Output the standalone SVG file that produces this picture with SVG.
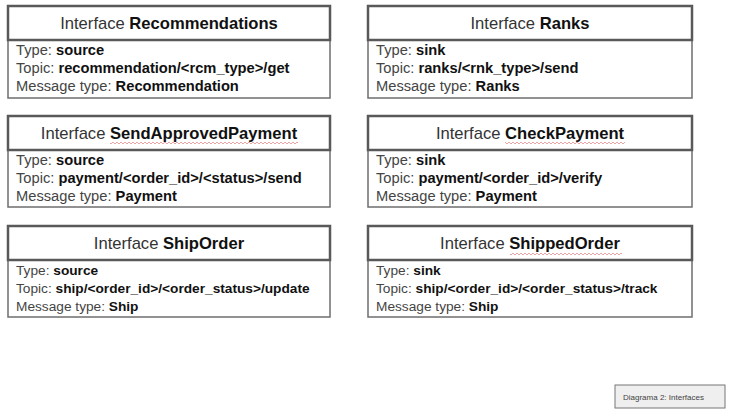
<svg xmlns="http://www.w3.org/2000/svg" width="734" height="419" viewBox="0 0 734 419">
<style>
.hdr{fill:#fff;stroke:#595959;stroke-width:2.5}
.body{fill:#fff;stroke:#6e6e6e;stroke-width:1.5}
.ht{font-family:"Liberation Sans",Arial,sans-serif;font-size:16.6px;fill:#333;text-anchor:middle}
.bt{font-family:"Liberation Sans",Arial,sans-serif;font-size:14.7px;fill:#444}
.bt3{font-family:"Liberation Sans",Arial,sans-serif;font-size:13.7px;fill:#444}
.b{font-weight:bold;fill:#111}
.cap{fill:#efefef;stroke:#777;stroke-width:1}
.ct{font-family:"Liberation Sans",Arial,sans-serif;font-size:8px;fill:#444}
</style>
<defs>
<pattern id="wv" width="4" height="3" patternUnits="userSpaceOnUse"><path d="M0 2 Q1 0 2 2 T4 2" fill="none" stroke="#e08080" stroke-width="0.7"/></pattern>
</defs>
<rect width="734" height="419" fill="#fff"/>

<g id="recommendations">
<rect class="body" x="8" y="40" width="322" height="58"/>
<rect class="hdr" x="8" y="6" width="322" height="34"/>
<text class="ht" x="169" y="29">Interface <tspan class="b">Recommendations</tspan></text>
<text class="bt" x="16" y="55">Type: <tspan class="b">source</tspan></text>
<text class="bt" x="16" y="73">Topic: <tspan class="b">recommendation/&lt;rcm_type&gt;/get</tspan></text>
<text class="bt" x="16" y="91">Message type: <tspan class="b">Recommendation</tspan></text>
</g>

<g id="ranks">
<rect class="body" x="368" y="40" width="324" height="58"/>
<rect class="hdr" x="368" y="6" width="324" height="34"/>
<text class="ht" x="530" y="29">Interface <tspan class="b">Ranks</tspan></text>
<text class="bt" x="376" y="55">Type: <tspan class="b">sink</tspan></text>
<text class="bt" x="376" y="73">Topic: <tspan class="b">ranks/&lt;rnk_type&gt;/send</tspan></text>
<text class="bt" x="376" y="91">Message type: <tspan class="b">Ranks</tspan></text>
</g>

<g id="sendApprovedPayment">
<rect class="body" x="8" y="150" width="322" height="57"/>
<rect class="hdr" x="8" y="116" width="322" height="34"/>
<text class="ht" x="169" y="139">Interface <tspan class="b">SendApprovedPayment</tspan></text>
<rect x="110" y="142" width="188" height="3" fill="url(#wv)"/>
<text class="bt" x="16" y="165">Type: <tspan class="b">source</tspan></text>
<text class="bt" x="16" y="183">Topic: <tspan class="b">payment/&lt;order_id&gt;/&lt;status&gt;/send</tspan></text>
<text class="bt" x="16" y="201">Message type: <tspan class="b">Payment</tspan></text>
</g>

<g id="checkPayment">
<rect class="body" x="368" y="150" width="324" height="57"/>
<rect class="hdr" x="368" y="116" width="324" height="34"/>
<text class="ht" x="530" y="139">Interface <tspan class="b">CheckPayment</tspan></text>
<rect x="505" y="142" width="120" height="3" fill="url(#wv)"/>
<text class="bt" x="376" y="165">Type: <tspan class="b">sink</tspan></text>
<text class="bt" x="376" y="183">Topic: <tspan class="b">payment/&lt;order_id&gt;/verify</tspan></text>
<text class="bt" x="376" y="201">Message type: <tspan class="b">Payment</tspan></text>
</g>

<g id="shipOrder">
<rect class="body" x="8" y="260" width="322" height="57"/>
<rect class="hdr" x="8" y="226" width="322" height="34"/>
<text class="ht" x="169" y="249">Interface <tspan class="b">ShipOrder</tspan></text>
<text class="bt3" x="16" y="275">Type: <tspan class="b">source</tspan></text>
<text class="bt3" x="16" y="293">Topic: <tspan class="b">ship/&lt;order_id&gt;/&lt;order_status&gt;/update</tspan></text>
<text class="bt3" x="16" y="311">Message type: <tspan class="b">Ship</tspan></text>
</g>

<g id="shippedOrder">
<rect class="body" x="368" y="260" width="324" height="57"/>
<rect class="hdr" x="368" y="226" width="324" height="34"/>
<text class="ht" x="530" y="249">Interface <tspan class="b">ShippedOrder</tspan></text>
<rect x="510" y="252" width="112" height="3" fill="url(#wv)"/>
<text class="bt3" x="376" y="275">Type: <tspan class="b">sink</tspan></text>
<text class="bt3" x="376" y="293">Topic: <tspan class="b">ship/&lt;order_id&gt;/&lt;order_status&gt;/track</tspan></text>
<text class="bt3" x="376" y="311">Message type: <tspan class="b">Ship</tspan></text>
</g>

<g id="connectors"></g>

<g id="caption">
<rect class="cap" x="615" y="385" width="110" height="23"/>
<text class="ct" x="623" y="399.5">Diagrama 2: Interfaces</text>
</g>
</svg>
